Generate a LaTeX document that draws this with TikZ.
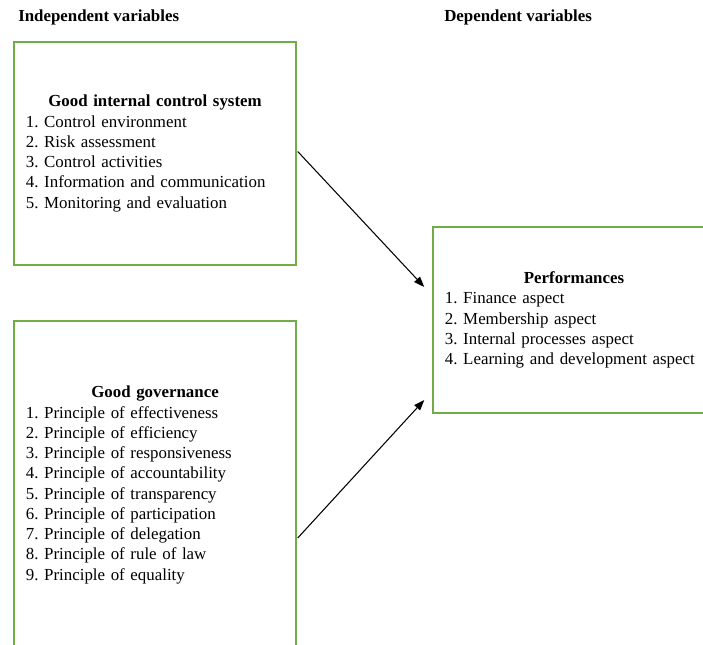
\documentclass[tikz,border=0pt]{standalone}
\usepackage{fontspec}
\setmainfont{Liberation Serif}
\usetikzlibrary{positioning,arrows.meta,calc}
\definecolor{boxgreen}{HTML}{70AD47}
\newcommand{\boxtitle}[1]{\makebox[\linewidth]{\textbf{#1}}}
\frenchspacing

\begin{document}
\begin{tikzpicture}[
  x=0.025cm, y=-0.025cm,
  font=\fontsize{12}{14.4}\selectfont,
  var/.style={draw=boxgreen, line width=1pt, minimum width=7.05cm,
              text width=6.45cm, inner xsep=0.3cm, align=left},
  hdr/.style={anchor=base west, inner sep=0pt, font=\fontsize{12}{14.4}\selectfont\bfseries},
  fl/.style={-{Triangle[length=7.5pt, width=5.5pt]}, line width=0.75pt}
]
\clip (0,0) rectangle (703,644);
\node[hdr] (ind) at (18,22) {Independent variables};
\node[hdr] (dep) at (444,22) {Dependent variables};

\node[var, minimum height=5.575cm] (ctrl) at (155,153.5) {\boxtitle{Good internal control system}\\
1. Control environment\\
2. Risk assessment\\
3. Control activities\\
4. Information and communication\\
5. Monitoring and evaluation};

\node[var, minimum height=8.2cm] (gov) at (155,485) {\boxtitle{Good governance}\\
1. Principle of effectiveness\\
2. Principle of efficiency\\
3. Principle of responsiveness\\
4. Principle of accountability\\
5. Principle of transparency\\
6. Principle of participation\\
7. Principle of delegation\\
8. Principle of rule of law\\
9. Principle of equality};

\node[var, minimum height=4.65cm] (perf) at (574,320) {\boxtitle{Performances}\\
1. Finance aspect\\
2. Membership aspect\\
3. Internal processes aspect\\
4. Learning and development aspect};

\draw[fl] ($(ctrl.east)+(1,-2)$) -- ($(perf.west)+(-8,-33)$);
\draw[fl] ($(gov.east)+(1,53)$) -- ($(perf.west)+(-8,80)$);
\end{tikzpicture}
\end{document}
